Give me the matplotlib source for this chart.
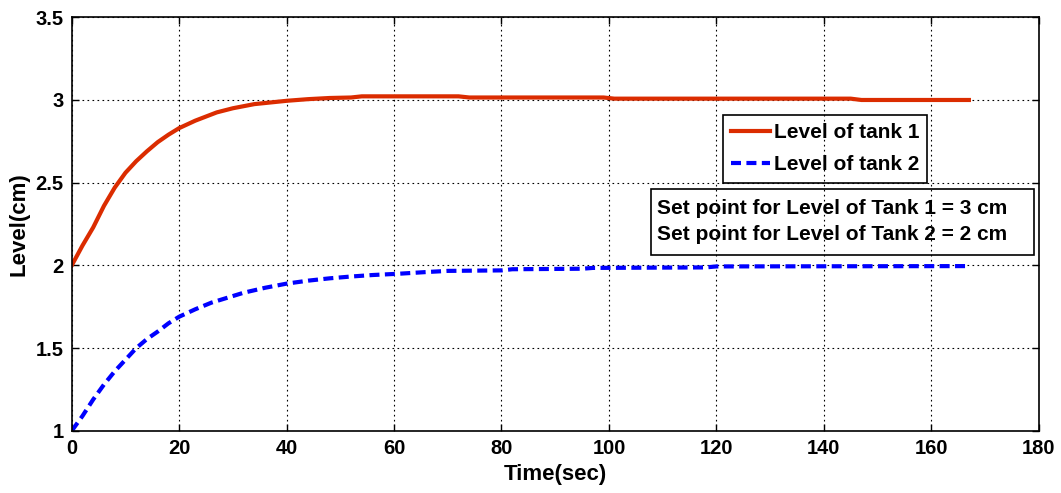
import numpy as np
import matplotlib
matplotlib.use("Agg")
import matplotlib.pyplot as plt
from matplotlib.patches import Rectangle

# values
t1 = [0, 2, 4, 6, 8, 10, 12, 14, 16, 18, 20, 23, 27, 30, 34, 37, 40, 44, 48,
      52, 54, 60, 66, 72, 74, 80, 90, 99, 101, 120, 145, 147, 167]
level1 = [2.0, 2.12, 2.23, 2.36, 2.47, 2.56, 2.63, 2.69, 2.745, 2.79, 2.83,
          2.875, 2.925, 2.95, 2.975, 2.985, 2.995, 3.005, 3.012,
          3.015, 3.022, 3.022, 3.022, 3.022, 3.015, 3.015, 3.015, 3.015, 3.008,
          3.008, 3.008, 3.0, 3.0]

t2 = [0, 2, 4, 6, 8, 10, 12, 14, 16, 18, 20, 23, 26, 29, 32, 36, 40, 44, 48,
      52, 56, 61, 66, 70, 80, 82, 95, 97, 118, 120, 167]
level2 = [1.0, 1.09, 1.19, 1.28, 1.36, 1.43, 1.5, 1.555, 1.6, 1.65, 1.69,
          1.735, 1.775, 1.805, 1.835, 1.865, 1.89, 1.908, 1.922,
          1.933, 1.942, 1.95, 1.96, 1.967, 1.97, 1.977, 1.98, 1.985, 1.988, 1.994, 1.996]

note = 'Set point for Level of Tank 1 = 3 cm\nSet point for Level of Tank 2 = 2 cm'

plt.rcParams['font.family'] = ['Liberation Sans', 'DejaVu Sans']
plt.rcParams['font.weight'] = 'bold'

fig = plt.figure(figsize=(10.61, 4.93), dpi=100)
ax = fig.add_axes([0.0676, 0.126, 0.9114, 0.839])

ax.plot(t1, level1, color='#DB2C00', lw=3, label='Level of tank 1')
ax.plot(t2, level2, color='#0000FF', lw=3, ls=(0, (2.4, 1.3)), label='Level of tank 2')

ax.set_xlim(0, 180)
ax.set_ylim(1, 3.5)
ax.set_xticks(np.arange(0, 181, 20))
ax.set_yticks([1, 1.5, 2, 2.5, 3, 3.5])
ax.set_yticklabels(['1', '1.5', '2', '2.5', '3', '3.5'])
ax.tick_params(direction='in', length=5, width=1, labelsize=14.5, pad=6,
               top=True, right=True)
for lab in ax.get_xticklabels() + ax.get_yticklabels():
    lab.set_fontweight('bold')
ax.grid(True, color='black', ls=(0, (1.5, 3)), lw=0.8)
for s in ax.spines.values():
    s.set_linewidth(1.2)

ax.set_xlabel('Time(sec)', fontsize=16, fontweight='bold', labelpad=4)
ax.set_ylabel('Level(cm)', fontsize=16, fontweight='bold', labelpad=4)

leg = ax.legend(loc='upper left', bbox_to_anchor=(0.6734, 0.7634),
                prop={'size': 15, 'weight': 'bold'}, frameon=True,
                fancybox=False, facecolor='none', edgecolor='black',
                handlelength=1.85, handletextpad=0.18, borderpad=0.4,
                labelspacing=0.62, borderaxespad=0)
leg.get_frame().set_linewidth(1.2)
leg.get_frame().set_alpha(None)

# set point note with its own frame
ax.add_patch(Rectangle((0.599, 0.426), 0.396, 0.159, transform=ax.transAxes,
                       fill=False, ec='black', lw=1.2, zorder=5))
ax.text(0.6055, 0.5055, note, transform=ax.transAxes, fontsize=15,
        fontweight='bold', va='center', ha='left', linespacing=1.45, zorder=5)

fig.savefig('out.png', dpi=100)
